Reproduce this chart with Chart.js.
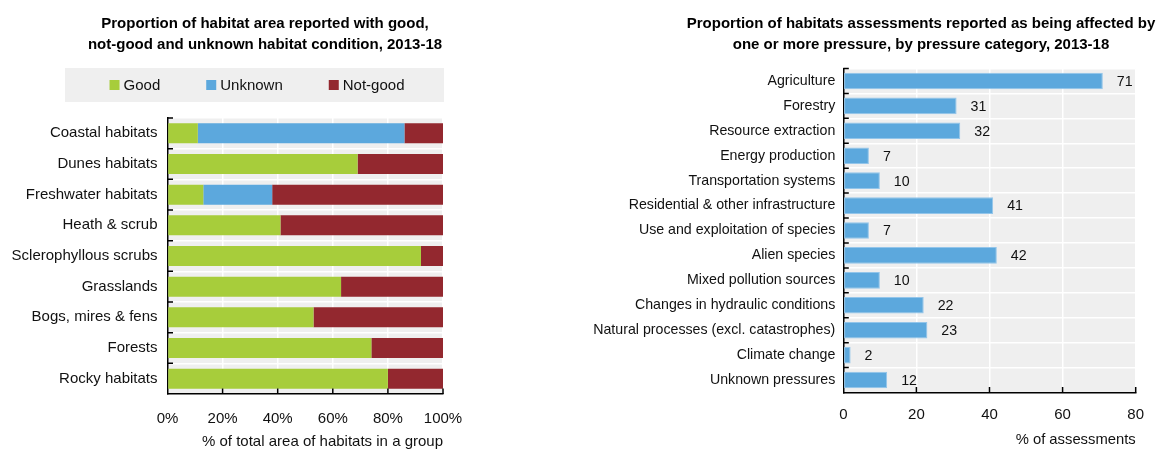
<!DOCTYPE html>
<html>
<head>
<meta charset="utf-8">
<script src="https://cdn.jsdelivr.net/npm/chart.js@4.4.1/dist/chart.umd.min.js"></script>
<style>
  html, body { margin: 0; padding: 0; background: #fff; overflow: hidden; }
  body { width: 1158px; height: 453px; position: relative; }
  .panel { position: absolute; top: 0; }
  #habitatPanel { left: 0; }
  #pressurePanel { left: 580px; }
</style>
</head>
<body>
<div class="panel" id="habitatPanel"><canvas id="habitatChart" width="530" height="453"></canvas></div>
<div class="panel" id="pressurePanel"><canvas id="pressureChart" width="682" height="453"></canvas></div>
<script>
// habitat condition by group, % of total area
const habitatGroups = ['Coastal habitats', 'Dunes habitats', 'Freshwater habitats', 'Heath & scrub',
  'Sclerophyllous scrubs', 'Grasslands', 'Bogs, mires & fens', 'Forests', 'Rocky habitats'];
const goodShare    = [11, 69, 13, 41, 92, 63, 53, 74, 80];
const unknownShare = [75,  0, 25,  0,  0,  0,  0,  0,  0];
const notGoodShare = [14, 31, 62, 59,  8, 37, 47, 26, 20];
const shareTicks = [0, 20, 40, 60, 80, 100];

// pressure categories, % of assessments affected
const pressureCategories = ['Agriculture', 'Forestry', 'Resource extraction', 'Energy production',
  'Transportation systems', 'Residential & other infrastructure', 'Use and exploitation of species',
  'Alien species', 'Mixed pollution sources', 'Changes in hydraulic conditions',
  'Natural processes (excl. catastrophes)', 'Climate change', 'Unknown pressures'];
const pressureShare = [71, 31, 32, 7, 10, 41, 7, 42, 10, 22, 23, 2, 12];
const assessmentTicks = [0, 20, 40, 60, 80];

const FONT = "'Liberation Sans', Arial, sans-serif";
const GREEN = '#a7cd3b';
const BLUE = '#5ca8dd';
const RED = '#93282f';
const PANEL_GREY = '#efefef';
const INK = '#111';

Chart.defaults.font.family = FONT;
Chart.defaults.font.size = 15;
Chart.defaults.font.lineHeight = 1.38;
Chart.defaults.color = INK;
Chart.defaults.animation = false;
Chart.defaults.plugins.tooltip.enabled = false;

// grey fill behind the plot area
const plotBackground = {
  id: 'plotBackground',
  beforeDraw(chart) {
    const {ctx, chartArea: a} = chart;
    ctx.save();
    ctx.fillStyle = PANEL_GREY;
    ctx.fillRect(a.left, a.top, a.right - a.left, a.bottom - a.top);
    ctx.restore();
  }
};

// short tick marks pointing into the plot
const insideTicks = {
  id: 'insideTicks',
  afterDatasetsDraw(chart) {
    const {ctx, chartArea: a, scales: {x, y}} = chart;
    const len = 5.5;
    const band = Math.abs(y.getPixelForTick(1) - y.getPixelForTick(0));
    ctx.save();
    ctx.strokeStyle = '#000';
    ctx.lineWidth = 1.5;
    ctx.beginPath();
    y.ticks.forEach((t, i) => {
      const py = y.getPixelForTick(i) - band / 2;
      ctx.moveTo(a.left, py);
      ctx.lineTo(a.left + len, py);
    });
    x.ticks.forEach(t => {
      if (t.value === x.min) return;
      const px = x.getPixelForValue(t.value);
      ctx.moveTo(px, a.bottom);
      ctx.lineTo(px, a.bottom - len);
    });
    ctx.stroke();
    ctx.restore();
  }
};

// legend drawn on a grey band under the title
const bandLegend = {
  id: 'bandLegend',
  afterDraw(chart, args, opts) {
    const {ctx} = chart;
    ctx.save();
    ctx.fillStyle = PANEL_GREY;
    ctx.fillRect(opts.left, opts.top, opts.right - opts.left, opts.height);
    ctx.font = '15px ' + FONT;
    ctx.textBaseline = 'middle';
    ctx.textAlign = 'left';
    const items = chart.data.datasets.map(ds => ({
      text: ds.label,
      color: ds.backgroundColor,
      width: opts.box + opts.gap + ctx.measureText(ds.label).width
    }));
    const total = items.reduce((s, it) => s + it.width, 0) + opts.spacing * (items.length - 1);
    const cy = opts.top + opts.height / 2;
    let cx = opts.center - total / 2;
    items.forEach(it => {
      ctx.fillStyle = it.color;
      ctx.fillRect(cx, cy - opts.box / 2, opts.box, opts.box);
      ctx.fillStyle = INK;
      ctx.fillText(it.text, cx + opts.box + opts.gap, cy + 1);
      cx += it.width + opts.spacing;
    });
    ctx.restore();
  }
};

// value printed to the right of each bar
const valueLabels = {
  id: 'valueLabels',
  afterDatasetsDraw(chart, args, opts) {
    const {ctx} = chart;
    const values = chart.data.datasets[0].data;
    ctx.save();
    ctx.font = opts.size + 'px ' + FONT;
    ctx.fillStyle = INK;
    ctx.textBaseline = 'middle';
    ctx.textAlign = 'left';
    chart.getDatasetMeta(0).data.forEach((bar, i) => {
      ctx.fillText(String(values[i]), bar.x + opts.offset, bar.y + 1);
    });
    ctx.restore();
  }
};

function titleFont() {
  return {size: 15, weight: 'bold', lineHeight: 1.4};
}

// left panel
new Chart(document.getElementById('habitatChart'), {
  type: 'bar',
  data: {
    labels: habitatGroups,
    datasets: [
      {label: 'Good', data: goodShare, backgroundColor: GREEN},
      {label: 'Unknown', data: unknownShare, backgroundColor: BLUE},
      {label: 'Not-good', data: notGoodShare, backgroundColor: RED}
    ]
  },
  options: {
    indexAxis: 'y',
    responsive: false,
    layout: {padding: 0},
    datasets: {bar: {barPercentage: 0.65, categoryPercentage: 1, borderWidth: 0}},
    plugins: {
      legend: {display: false},
      title: {
        display: true,
        text: ['Proportion of habitat area reported with good,',
               'not-good and unknown habitat condition, 2013-18'],
        color: '#000',
        font: titleFont(),
        padding: {top: 13.5, bottom: 62.5}
      },
      bandLegend: {left: 65, right: 444, top: 68, height: 34, center: 257, box: 10, gap: 4, spacing: 46}
    },
    scales: {
      x: {
        stacked: true,
        min: 0,
        max: 100,
        afterBuildTicks: s => { s.ticks = shareTicks.map(v => ({value: v})); },
        afterFit: s => { s.paddingRight = 87; s.height = 59; },
        grid: {color: '#fff', lineWidth: 1.5, drawTicks: false},
        border: {color: '#000', width: 1.5},
        ticks: {padding: 14.6, callback: v => v + '%'},
        title: {
          display: true,
          text: '% of total area of habitats in a group',
          align: 'end',
          padding: {top: 0, bottom: 0.6}
        }
      },
      y: {
        stacked: true,
        afterFit: s => { s.width = 167.5; },
        grid: {color: '#fff', lineWidth: 1.5, drawTicks: false},
        border: {color: '#000', width: 1.5},
        ticks: {padding: 10}
      }
    }
  },
  plugins: [plotBackground, insideTicks, bandLegend]
});

// right panel
new Chart(document.getElementById('pressureChart'), {
  type: 'bar',
  data: {
    labels: pressureCategories,
    datasets: [{
      label: '% of assessments',
      data: pressureShare,
      backgroundColor: BLUE,
      borderColor: '#93c5ea',
      borderWidth: 1,
      borderSkipped: false
    }]
  },
  options: {
    indexAxis: 'y',
    responsive: false,
    layout: {padding: 0},
    datasets: {bar: {barPercentage: 0.667, categoryPercentage: 1}},
    plugins: {
      legend: {display: false},
      title: {
        display: true,
        text: ['Proportion of habitats assessments reported as being affected by',
               'one or more pressure, by pressure category, 2013-18'],
        color: '#000',
        font: titleFont(),
        padding: {top: 13.5, bottom: 13}
      },
      valueLabels: {offset: 14, size: 14.2}
    },
    scales: {
      x: {
        min: 0,
        max: 80,
        afterBuildTicks: s => { s.ticks = assessmentTicks.map(v => ({value: v})); },
        afterFit: s => { s.paddingRight = 126.3; s.height = 60.5; },
        grid: {color: '#fff', lineWidth: 1.5, drawTicks: false},
        border: {color: '#000', width: 1.5},
        ticks: {padding: 12.2},
        title: {
          display: true,
          text: '% of assessments',
          align: 'end',
          font: {size: 14.8},
          padding: {top: 0, bottom: 2.6}
        }
      },
      y: {
        afterFit: s => { s.width = 263.3; },
        grid: {color: '#fff', lineWidth: 1.5, drawTicks: false},
        border: {color: '#000', width: 1.5},
        ticks: {padding: 8, font: {size: 14.2}}
      }
    }
  },
  plugins: [plotBackground, insideTicks, valueLabels]
});
</script>
</body>
</html>
